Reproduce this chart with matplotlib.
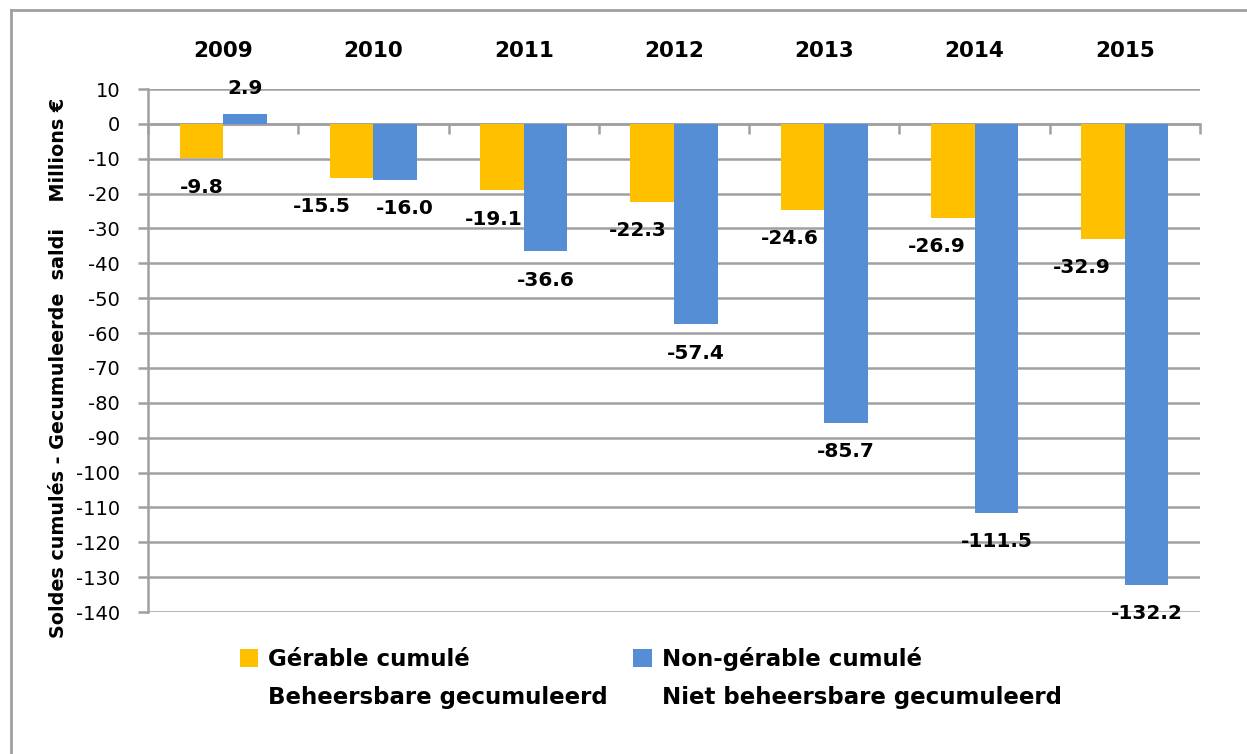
import matplotlib
matplotlib.use("Agg")
import matplotlib.pyplot as plt
import numpy as np
from matplotlib.patches import Patch
from matplotlib.lines import Line2D
from matplotlib.ticker import MultipleLocator, FixedLocator

years = ["2009", "2010", "2011", "2012", "2013", "2014", "2015"]
gerable = [-9.8, -15.5, -19.1, -22.3, -24.6, -26.9, -32.9]
non_gerable = [2.9, -16.0, -36.6, -57.4, -85.7, -111.5, -132.2]
series_labels = ["Gérable cumulé", "Non-gérable cumulé"]
series_labels_nl = ["Beheersbare gecumuleerd", "Niet beheersbare gecumuleerd"]
ylabel = "Soldes cumulés - Gecumuleerde  saldi    Millions €"

# label horizontal nudges (pixels), as placed in the original
dx_ger = [0, -30, -8, -14, -13, -16, -21]
dx_non = [0, 10, 0, 0, 0, 0, 0]

ORANGE = "#FFC000"
BLUE = "#558ED5"
GRID = "#A0A0A0"
FONT = ["DejaVu Sans"]

plt.rcParams["font.family"] = FONT
plt.rcParams["axes.unicode_minus"] = False
plt.rcParams["ytick.major.pad"] = 13
plt.rcParams["ytick.major.size"] = 7
plt.rcParams["ytick.major.width"] = 1.8
plt.rcParams["ytick.color"] = GRID
plt.rcParams["ytick.labelcolor"] = "black"
plt.rcParams["ytick.labelsize"] = 14

W, H = 1247, 754
fig = plt.figure(figsize=(W / 100, H / 100), dpi=100)
ax = fig.add_axes([148 / W, 1 - 612 / H, (1200 - 148) / W, (612 - 89) / H])

x = np.arange(len(years))
bw = 0.29
b1 = ax.bar(x - bw / 2, gerable, bw, color=ORANGE, zorder=3)
b2 = ax.bar(x + bw / 2, non_gerable, bw, color=BLUE, zorder=3)

ax.set_xlim(-0.5, len(years) - 0.5)
ax.set_ylim(-140, 10)
ax.yaxis.set_major_locator(MultipleLocator(10))
ax.grid(axis="y", color=GRID, linewidth=1.8, zorder=0)
ax.set_axisbelow(True)

for s in ["top", "right"]:
    ax.spines[s].set_visible(False)
ax.spines["left"].set_color(GRID)
ax.spines["left"].set_linewidth(1.8)
ax.spines["bottom"].set_position(("data", 0))
ax.spines["bottom"].set_color(GRID)
ax.spines["bottom"].set_linewidth(1.8)

ax.set_xticks(x)
ax.set_xticklabels(years, fontsize=15.5, fontweight="bold")
ax.tick_params(axis="x", which="major", length=0, labeltop=True, labelbottom=False,
               top=False, bottom=False, pad=20)
ax.xaxis.set_minor_locator(FixedLocator(np.arange(len(years) + 1) - 0.5))
ax.tick_params(axis="x", which="minor", length=7, width=1.8, color=GRID,
               direction="out", bottom=True, top=False)
ax.tick_params(axis="y", which="major", length=7, width=1.8, color=GRID,
               labelcolor="black", labelsize=14, pad=13)

ax.set_ylabel(ylabel, fontsize=13.8, fontweight="bold")
ax.yaxis.set_label_coords(-0.076, 0.4665)

px2pt = 72 / 100
for i, (r, v) in enumerate(zip(b1, gerable)):
    ax.annotate(f"{v:.1f}", (r.get_x() + r.get_width() / 2, v),
                xytext=(dx_ger[i] * px2pt, -29 * px2pt), textcoords="offset points",
                ha="center", va="center", fontsize=14.5, fontweight="bold", zorder=5)
for i, (r, v) in enumerate(zip(b2, non_gerable)):
    off = 25 if v > 0 else -29
    ax.annotate(f"{v:.1f}", (r.get_x() + r.get_width() / 2, v),
                xytext=(dx_non[i] * px2pt, off * px2pt), textcoords="offset points",
                ha="center", va="center", fontsize=14.5, fontweight="bold", zorder=5)

invis = Patch(facecolor="none", edgecolor="none")
handles = [Patch(facecolor=ORANGE, edgecolor="none"), invis,
           Patch(facecolor=BLUE, edgecolor="none"), invis]
labels = [series_labels[0], series_labels_nl[0], series_labels[1], series_labels_nl[1]]
leg = fig.legend(handles, labels, ncol=2, frameon=False, loc="upper left",
                 bbox_to_anchor=(240 / W, 1 - 647 / H), borderaxespad=0,
                 prop={"family": FONT, "weight": "bold", "size": 16.5},
                 handlelength=0.79, handleheight=0.79, handletextpad=0.44,
                 columnspacing=1.12, labelspacing=0.66, borderpad=0)

# outer chart border
fig.add_artist(Line2D([11 / W, 11 / W], [0, 1 - 10 / H], color=GRID, lw=2))
fig.add_artist(Line2D([11 / W, 1.01], [1 - 10 / H, 1 - 10 / H], color=GRID, lw=2))

fig.savefig("out.png", dpi=100)
